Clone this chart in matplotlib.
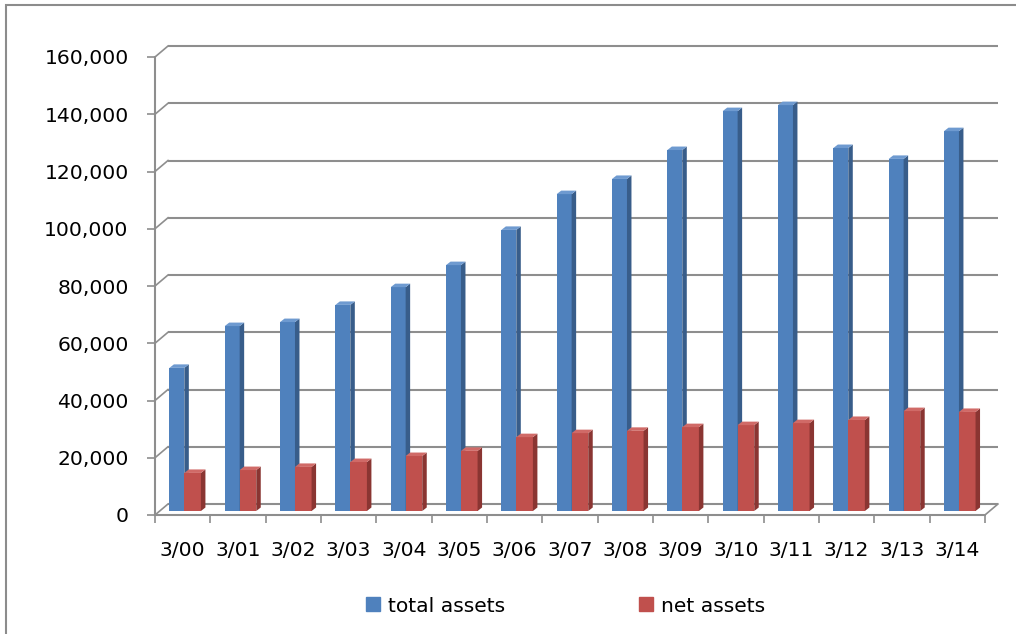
import matplotlib.pyplot as plt
from matplotlib.patches import Polygon, Rectangle, Patch
from matplotlib.ticker import FuncFormatter

CATEGORIES = ['3/00', '3/01', '3/02', '3/03', '3/04', '3/05', '3/06', '3/07',
              '3/08', '3/09', '3/10', '3/11', '3/12', '3/13', '3/14']
TOTAL_ASSETS = [50000, 64600, 66000, 72000, 78200, 85900, 98200, 110700,
                116000, 126100, 139700, 141800, 126800, 123000, 132700]
NET_ASSETS = [13300, 14300, 15400, 17100, 19200, 21000, 25800, 27200,
              28000, 29300, 30000, 30700, 31800, 34900, 34600]
SERIES_NAMES = ['total assets', 'net assets']
Y_TICKS = list(range(0, 160001, 20000))

# pixel geometry of the faux 3d box
W, H = 1016, 634
AX_L, AX_R, AX_T, AX_B = 155, 1002, 40, 515
PX_PER_CAT = 55.33
PX_PER_VAL = 0.0028625
WALL_DX = 13 / PX_PER_CAT
WALL_DY = 11 / PX_PER_VAL
BAR_DX = 4.5 / PX_PER_CAT
BAR_DY = 3.5 / PX_PER_VAL
BAR_BASE = 4 / PX_PER_VAL
GRID = '#8e8e8e'
FONT = 14.6

plt.rcParams['font.family'] = 'DejaVu Sans'

fig = plt.figure(figsize=(W / 100, H / 100), dpi=100)
ax = fig.add_axes([AX_L / W, (H - AX_B) / H, (AX_R - AX_L) / W, (AX_B - AX_T) / H])
ax.set_xlim(-0.5, -0.5 + (AX_R - AX_L) / PX_PER_CAT)
ax.set_ylim(0, (AX_B - AX_T) / PX_PER_VAL)

# back wall gridlines and side stubs
n = len(CATEGORIES)
for v in Y_TICKS:
    ax.plot([-0.5 + WALL_DX, n - 0.5 + WALL_DX], [v + WALL_DY, v + WALL_DY],
            color=GRID, lw=1.5, zorder=1, solid_capstyle='butt')
    ax.plot([-0.5, -0.5 + WALL_DX], [v, v + WALL_DY], color=GRID, lw=1.2, zorder=1)
ax.plot([n - 0.5, n - 0.5 + WALL_DX], [0, WALL_DY], color=GRID, lw=1.2, zorder=1)


def bar3d(x, val, w, front, side, top):
    b = BAR_BASE
    x0, x1 = x - w / 2, x + w / 2
    ax.bar(x, val, width=w, bottom=b, color=front, zorder=3, linewidth=0)
    ax.add_patch(Polygon([(x1, b), (x1 + BAR_DX, b + BAR_DY), (x1 + BAR_DX, b + val + BAR_DY),
                          (x1, b + val)], closed=True, facecolor=side, lw=0, zorder=3))
    ax.add_patch(Polygon([(x0, b + val), (x1, b + val), (x1 + BAR_DX, b + val + BAR_DY),
                          (x0 + BAR_DX, b + val + BAR_DY)], closed=True, facecolor=top, lw=0, zorder=3))


for i in range(n):
    bar3d(i - 0.105, TOTAL_ASSETS[i], 0.27, '#4F81BD', '#385D8A', '#6E9AD0')
    bar3d(i + 0.18, NET_ASSETS[i], 0.30, '#C0504D', '#8A3532', '#D06A67')

# axes
for s in ['top', 'right']:
    ax.spines[s].set_visible(False)
ax.spines['left'].set_bounds(0, 160000)
ax.spines['bottom'].set_bounds(-0.5, n - 0.5)
for s in ['left', 'bottom']:
    ax.spines[s].set_color(GRID)
    ax.spines[s].set_linewidth(1.5)
    ax.spines[s].set_zorder(4)

ax.set_yticks(Y_TICKS)
ax.yaxis.set_major_formatter(FuncFormatter(lambda v, p: f'{int(v):,}'))
ax.tick_params(axis='y', length=6, width=1.2, color=GRID, pad=13, labelsize=FONT)
ax.set_xticks([i - 0.5 for i in range(n + 1)])
ax.set_xticklabels([])
ax.set_xticks(range(n), minor=True)
ax.set_xticklabels(CATEGORIES, minor=True, fontsize=FONT)
ax.tick_params(axis='x', which='major', length=6, width=1.2, color=GRID)
ax.tick_params(axis='x', which='minor', length=0, pad=19)

handles = [Patch(color='#4F81BD'), Patch(color='#C0504D')]
fig.legend(handles, SERIES_NAMES, loc='center', bbox_to_anchor=(565.5 / W, 28 / H),
           ncol=2, frameon=False, fontsize=FONT, handlelength=0.68, handleheight=0.68,
           handletextpad=0.4, columnspacing=6.6)

# chart area border (runs off the right and bottom)
fig.add_artist(Rectangle((6 / W, -0.1), 1.2, (H - 5) / H + 0.1, transform=fig.transFigure,
                         fill=False, edgecolor='#8c8c8c', lw=1.5))

fig.savefig('out.png', dpi=100)
